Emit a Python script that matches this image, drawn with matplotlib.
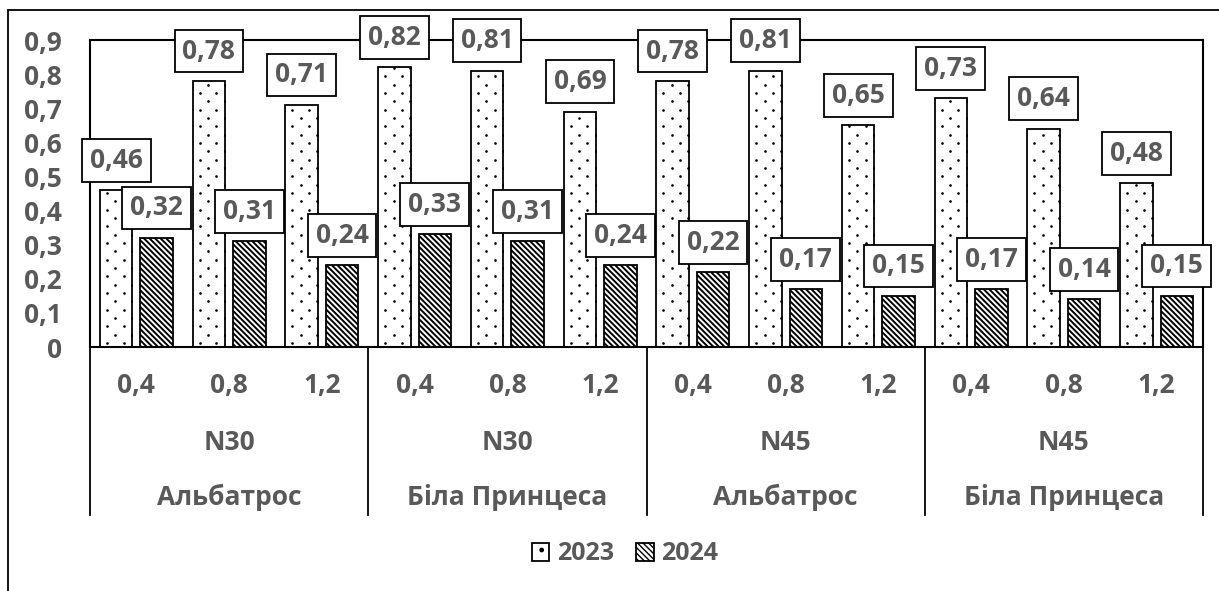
import matplotlib
matplotlib.use("Agg")
import matplotlib.pyplot as plt
from matplotlib.patches import Rectangle
from matplotlib.transforms import IdentityTransform

# yield by variety / nitrogen rate / dose, two seasons
varieties = ["Альбатрос", "Біла Принцеса", "Альбатрос", "Біла Принцеса"]
n_rates = ["N30", "N30", "N45", "N45"]
doses = ["0,4", "0,8", "1,2"]
vals_2023 = [0.46, 0.78, 0.71, 0.82, 0.81, 0.69, 0.78, 0.81, 0.65, 0.73, 0.64, 0.48]
vals_2024 = [0.32, 0.31, 0.24, 0.33, 0.31, 0.24, 0.22, 0.17, 0.15, 0.17, 0.14, 0.15]
yticks = [0, 0.1, 0.2, 0.3, 0.4, 0.5, 0.6, 0.7, 0.8, 0.9]

GRAY = "#595959"
FONT = "Open Sans"
plt.rcParams["font.family"] = [FONT, "DejaVu Sans"]
plt.rcParams["font.weight"] = "bold"

W, H = 1219, 591
fig = plt.figure(figsize=(W / 100, H / 100), dpi=100)
ax = fig.add_axes([90 / W, 1 - 347 / H, (1203 - 90) / W, (347 - 40) / H])

# outer chart frame (runs off the right/bottom edges)
fig.patches.append(Rectangle((8 / W, -0.2), 1.5, 1 - 10 / H + 0.2, transform=fig.transFigure,
                             fill=False, edgecolor="black", linewidth=1.3, clip_on=False))

x = list(range(len(vals_2023)))
bw = 0.35
off = 0.218

b1 = ax.bar([i - off for i in x], vals_2023, width=bw, color="white", edgecolor="black",
            linewidth=1.3, label="2023", zorder=2)
with plt.rc_context({"hatch.linewidth": 1.4}):
    b2 = ax.bar([i + off for i in x], vals_2024, width=bw, color="white", edgecolor="black",
                linewidth=1.3, hatch="\\" * 6, label="2024", zorder=2)

ax.set_xlim(-0.5, 11.5)
ax.set_ylim(0, 0.9)

# sparse staggered dot fill for the 2023 bars, laid out in pixels
step = 100 / 6
for b in b1:
    (x0, y0), (x1, y1) = ax.transData.transform(
        [(b.get_x(), 0), (b.get_x() + b.get_width(), b.get_height())])
    xs, ys = [], []
    row = 0
    yy = y0 + step / 4
    while yy < y1:
        xx = x0 + (7 if row % 2 == 0 else 7 + step / 2)
        while xx < x1:
            xs.append(xx)
            ys.append(yy)
            xx += step
        yy += step / 2
        row += 1
    dots, = ax.plot(xs, ys, "o", ms=1.9, mew=0, color="black", transform=IdentityTransform(),
                    zorder=3)
    dots.set_clip_path(b)

# boxed value labels above each bar
for bars, vals in ((b1, vals_2023), (b2, vals_2024)):
    for b, v in zip(bars, vals):
        ax.annotate(f"{v:.2f}".replace(".", ","), xy=(b.get_x() + b.get_width() / 2, v),
                    xytext=(0, 21.5), textcoords="offset points", ha="center", va="center",
                    fontsize=19, fontweight="bold", color=GRAY, zorder=5,
                    bbox=dict(boxstyle="square,pad=0.3", facecolor="white", edgecolor="black",
                              linewidth=1.3))

ax.set_yticks(yticks)
ax.set_yticklabels([("0" if t == 0 else f"{t:.1f}".replace(".", ",")) for t in yticks],
                   fontsize=19, fontweight="bold", color=GRAY)
ax.tick_params(axis="y", length=0, pad=20)
ax.set_xticks([])
for s in ax.spines.values():
    s.set_linewidth(1.5)
    s.set_color("black")

# multi-level category axis
xt = ax.get_xaxis_transform()
for i in x:
    ax.text(i, -0.150, doses[i % 3], transform=xt, ha="center", va="baseline",
            fontsize=19, fontweight="bold", color=GRAY)
for g in range(4):
    c = g * 3 + 1
    ax.text(c, -0.3355, n_rates[g], transform=xt, ha="center", va="baseline",
            fontsize=19, fontweight="bold", color=GRAY)
    ax.text(c, -0.5147, varieties[g], transform=xt, ha="center", va="baseline",
            fontsize=19, fontweight="bold", color=GRAY)
for g in range(5):
    ax.plot([g * 3 - 0.5] * 2, [0, -0.547], transform=xt, color="black", linewidth=1.3,
            clip_on=False)

# legend handle for 2023 carries a light dot hatch
h23 = Rectangle((0, 0), 1, 1, facecolor="white", edgecolor="black", linewidth=1.3, hatch=".")
fig.legend(handles=[h23, b2], labels=["2023", "2024"], loc="center",
           bbox_to_anchor=(625 / W, 1 - 554 / H), ncol=2,
           frameon=False, prop={"family": FONT, "weight": "bold", "size": 18},
           labelcolor=GRAY, handlelength=0.7, handleheight=0.7, handletextpad=0.3,
           columnspacing=0.9)

fig.savefig("out.png", dpi=100)
